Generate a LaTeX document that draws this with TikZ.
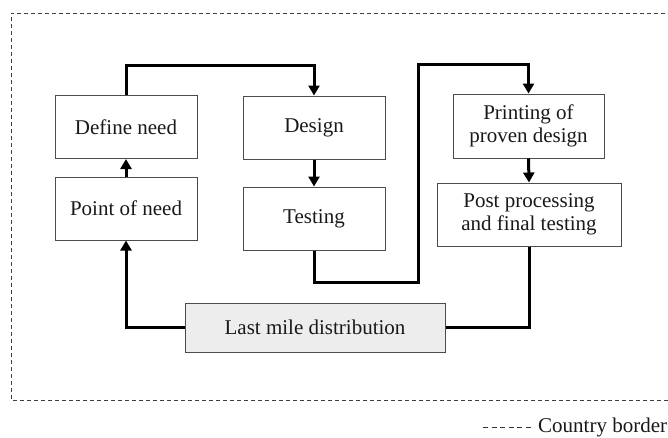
\documentclass[tikz,border=0pt]{standalone}
\usepackage{fontspec}
\setmainfont{Liberation Serif}
\usetikzlibrary{arrows.meta}
\begin{document}
\begin{tikzpicture}[x=1pt,y=-1pt,
  every node/.style={font=\fontsize{21pt}{23.5pt}\selectfont, text=black!90},
  stepbox/.style={draw=black!70, line width=1pt, align=center, inner sep=0pt, minimum width=142pt, minimum height=63pt},
  flow/.style={line width=3pt, -{Triangle[length=10pt,width=11pt]}},
  flowplain/.style={line width=3pt},
  border/.style={draw=black!75, line width=0.9pt, dash pattern=on 4pt off 3pt}]
\useasboundingbox (0,0) rectangle (668,437);
% country border
\begin{scope}
\clip (0,0) rectangle (668,437);
\draw[border] (700,13) -- (11,13) -- (11,400) -- (700,400);
\end{scope}
% boxes
\node[stepbox] (define) at (126,127) {Define need};
\node[stepbox] (point) at (126,208.5) {Point of need};
\node[stepbox] (design) at (314,127.5) {Design};
\node[stepbox] (testing) at (314,218.5) {Testing};
\node[stepbox, minimum width=151pt, minimum height=64pt] (printing) at (528.5,126) {Printing of\\proven design};
\node[stepbox, minimum width=184pt] (post) at (529,214.5) {Post processing\\and final testing};
\node[stepbox, minimum width=260pt, minimum height=49pt, fill=black!7] (last) at (315,327.5) {Last mile distribution};
% connectors
\coordinate (top1) at (220,65);
\coordinate (j1) at (418,282);
\coordinate (j2) at (418,64);
\draw[flow] (define.north) |- (top1) -| (design.north);
\draw[flow] (design.south) -- (testing.north);
\draw[flow] (point.north) -- (define.south);
\draw[flow] (testing.south) |- (j1) -- (j2) -| (printing.north);
\draw[flow] (printing.south) -- (post.north);
\draw[flowplain] (post.south) |- (last.east);
\draw[flow] (last.west) -| (point.south);
% legend
\coordinate (lg1) at (483,427);
\coordinate (lg2) at (533,427);
\draw[black!80, line width=0.9pt, dash pattern=on 5pt off 3.5pt] (lg1) -- (lg2);
\node[anchor=west, inner sep=0pt] (legend) at (538,427) {Country border};
\end{tikzpicture}
\end{document}
